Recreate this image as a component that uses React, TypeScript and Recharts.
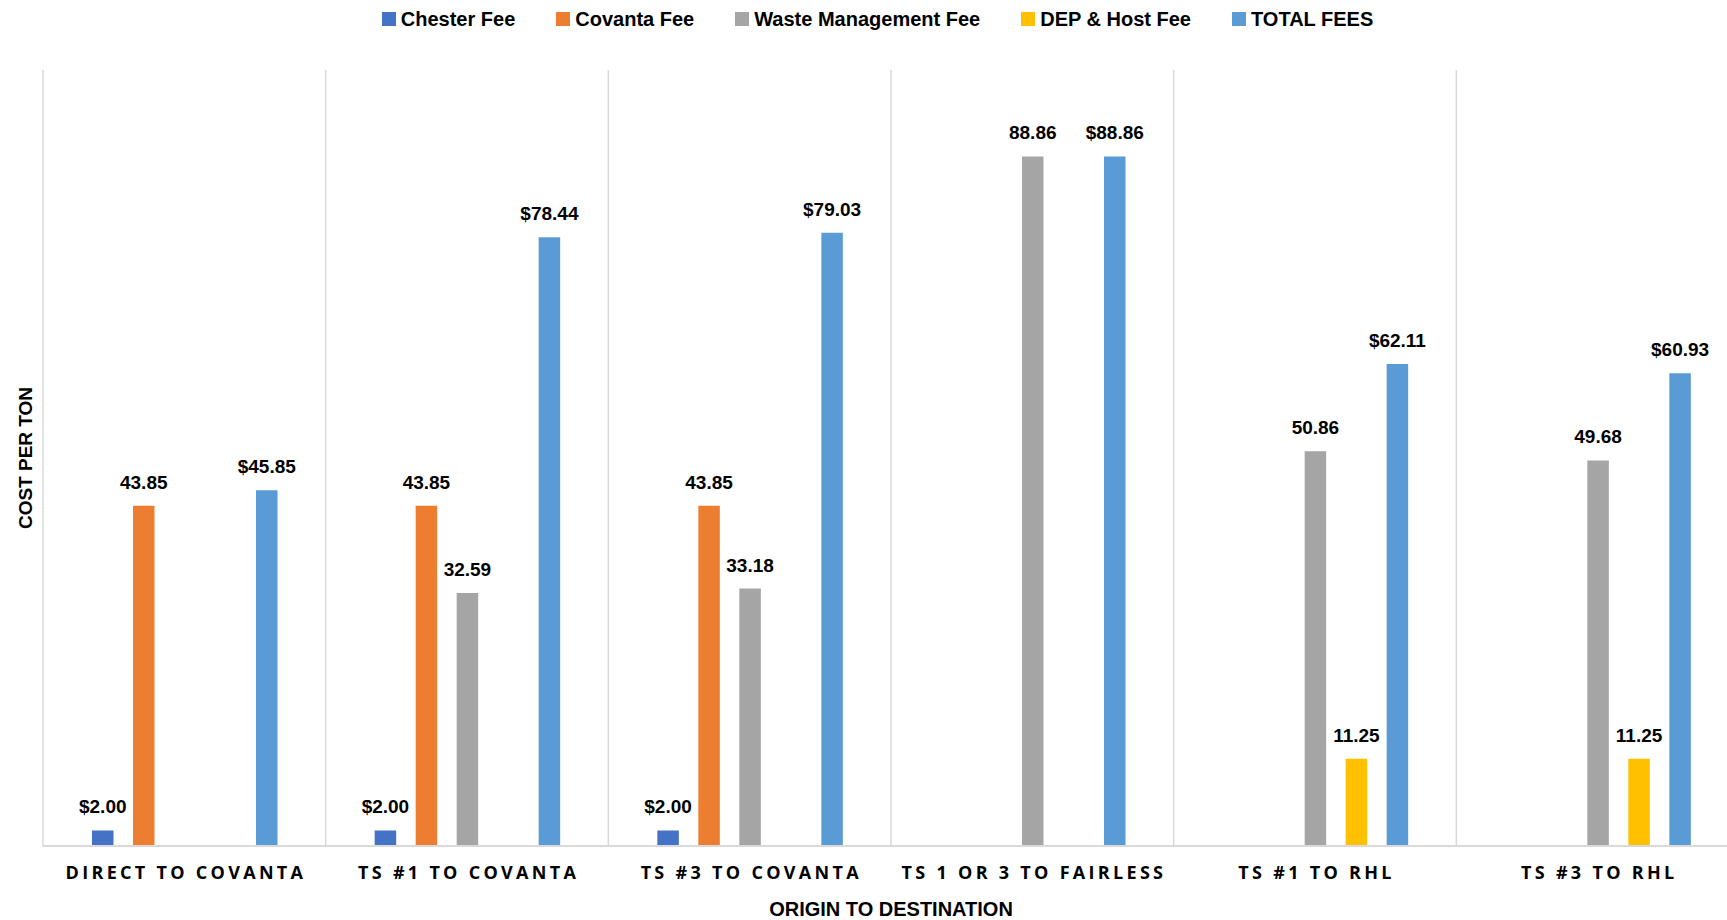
import React from 'react';
import { BarChart, Bar, XAxis, YAxis, CartesianGrid, Legend, LabelList, Label } from 'recharts';

const categories = ['DIRECT TO COVANTA', 'TS #1 TO COVANTA', 'TS #3 TO COVANTA', 'TS 1 OR 3 TO FAIRLESS', 'TS #1 TO RHL', 'TS #3 TO RHL'];
const chesterFee = [2.0, 2.0, 2.0, null, null, null];
const covantaFee = [43.85, 43.85, 43.85, null, null, null];
const wasteMgmtFee = [null, 32.59, 33.18, 88.86, 50.86, 49.68];
const depHostFee = [null, null, null, null, 11.25, 11.25];
const totalFees = [45.85, 78.44, 79.03, 88.86, 62.11, 60.93];

const seriesNames = ['Chester Fee', 'Covanta Fee', 'Waste Management Fee', 'DEP & Host Fee', 'TOTAL FEES'];
const seriesKeys = ['chester', 'covanta', 'waste', 'dep', 'total'];
const seriesColors = ['#4472C4', '#ED7D31', '#A5A5A5', '#FFC000', '#5B9BD5'];
const dollarSeries = ['chester', 'total'];

const data = categories.map((c, i) => ({
  name: c,
  chester: chesterFee[i],
  covanta: covantaFee[i],
  waste: wasteMgmtFee[i],
  dep: depHostFee[i],
  total: totalFees[i],
}));

const FONT = "'Liberation Sans', Arial, sans-serif";
const TICK_FONT = "'Open Sans', 'Liberation Sans', sans-serif";

const fmtPlain = (v: any) => (v == null ? '' : Number(v).toFixed(2));
const fmtDollar = (v: any) => (v == null ? '' : '$' + Number(v).toFixed(2));

const CategoryTick = (props: any) => {
  const { x, y, payload } = props;
  return (
    <text
      x={x + 1.6}
      y={y + 33}
      textAnchor="middle"
      fontFamily={TICK_FONT}
      fontWeight="bold"
      fontSize={18}
      fill="#000"
      style={{ letterSpacing: '3.3px' }}
    >
      {payload.value}
    </text>
  );
};

const LegendContent = () => (
  <div
    style={{
      display: 'flex',
      justifyContent: 'center',
      alignItems: 'center',
      gap: 41,
      height: 30,
      fontFamily: FONT,
      fontWeight: 'bold',
      fontSize: 20,
      color: '#000',
    }}
  >
    {seriesNames.map((n, i) => (
      <div key={n} style={{ display: 'flex', alignItems: 'center', whiteSpace: 'nowrap' }}>
        <span style={{ display: 'inline-block', width: 14, height: 14, background: seriesColors[i], marginRight: 5 }} />
        <span>{n}</span>
      </div>
    ))}
  </div>
);

const YTitle = (props: any) => {
  const vb = props.viewBox || { x: 0, y: 70, width: 43, height: 776 };
  const cx = vb.x + 25;
  const cy = vb.y + vb.height / 2;
  return (
    <text
      transform={`translate(${cx}, ${cy}) rotate(-90)`}
      textAnchor="middle"
      dominantBaseline="central"
      fontFamily={FONT}
      fontWeight="bold"
      fontSize={19}
      fill="#000"
    >
      COST PER TON
    </text>
  );
};

export default function App() {
  return (
    <div style={{ position: 'absolute', left: 0, top: 0, width: 1727, height: 920, overflow: 'hidden', background: '#fff' }}>
      <BarChart
        width={1740}
        height={920}
        data={data}
        margin={{ top: 40, right: 1, left: 0, bottom: 0 }}
        barSize={21.5}
        barGap={19.5}
      >
        <CartesianGrid
          horizontal={false}
          stroke="#d9d9d9"
          strokeWidth={1.5}
          verticalCoordinatesGenerator={({ offset }: any) =>
            Array.from({ length: categories.length + 1 }, (_, i) => offset.left + (i * offset.width) / categories.length)
          }
        />
        <XAxis
          dataKey="name"
          height={74}
          tickLine={false}
          tickSize={0}
          tickMargin={0}
          interval={0}
          axisLine={{ stroke: '#d9d9d9', strokeWidth: 2 }}
          tick={<CategoryTick />}
        >
          <Label
            value="ORIGIN TO DESTINATION"
            position="insideBottom"
            offset={4}
            fontFamily={FONT}
            fontWeight="bold"
            fontSize={20}
            fill="#000"
          />
        </XAxis>
        <YAxis width={43} domain={[0, 100]} tick={false} axisLine={false} tickLine={false}>
          <Label content={<YTitle />} />
        </YAxis>
        <Legend
          verticalAlign="top"
          content={<LegendContent />}
          wrapperStyle={{ top: 4, left: 0, width: 1755, height: 30 }}
        />
        {seriesKeys.map((k, i) => (
          <Bar key={k} dataKey={k} name={seriesNames[i]} fill={seriesColors[i]} isAnimationActive={false}>
            <LabelList
              dataKey={k}
              position="top"
              offset={17}
              formatter={dollarSeries.includes(k) ? fmtDollar : fmtPlain}
              fontFamily={FONT}
              fontWeight="bold"
              fontSize={19}
              fill="#000"
            />
          </Bar>
        ))}
      </BarChart>
    </div>
  );
}
